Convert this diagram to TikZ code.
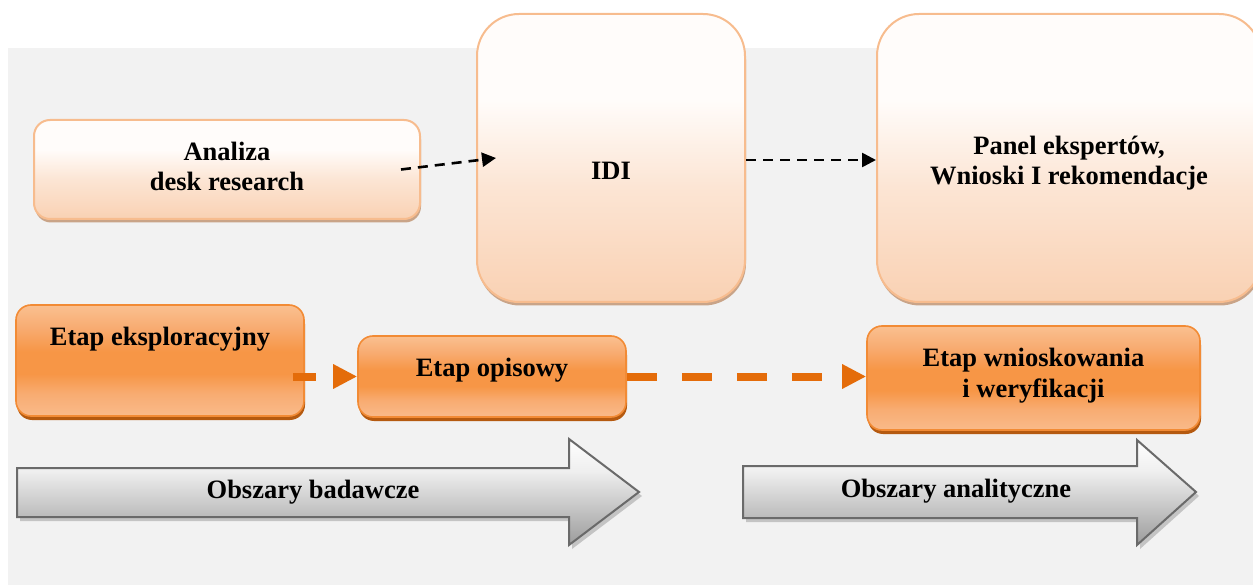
\documentclass[tikz,border=0pt]{standalone}
\usepackage{fontspec}
\setmainfont{Liberation Serif}
\usetikzlibrary{arrows.meta,shadows,calc}
\definecolor{bg}{HTML}{F2F2F2}
\definecolor{peachB}{HTML}{F9D1B3}
\definecolor{peachM}{HTML}{FCE5D4}
\definecolor{peachW}{HTML}{FFFCFA}
\definecolor{peachline}{HTML}{F7BC8E}
\definecolor{lightshadow}{HTML}{C9A488}
\definecolor{orL}{HTML}{FAC090}
\definecolor{orLB}{HTML}{F9BA8A}
\definecolor{orM}{HTML}{F8AC72}
\definecolor{orD}{HTML}{F79646}
\definecolor{orline}{HTML}{F28B35}
\definecolor{orshadow}{HTML}{B55A10}
\definecolor{orarr}{HTML}{E46C0A}
\definecolor{grA}{HTML}{9C9C9C}
\definecolor{grB}{HTML}{B8B8B8}
\definecolor{grC}{HTML}{EFEFEF}
\definecolor{grline}{HTML}{6A6A6A}
\definecolor{grshadow}{HTML}{C4C4C4}
\pgfdeclareverticalshading{lightsh}{100bp}{color(0bp)=(peachB); color(25bp)=(peachB); color(45bp)=(peachM); color(60bp)=(peachW); color(75bp)=(peachW); color(100bp)=(peachW)}
\pgfdeclareverticalshading{orsh}{100bp}{color(0bp)=(orLB); color(25bp)=(orLB); color(35bp)=(orM); color(44bp)=(orD); color(54bp)=(orD); color(65bp)=(orM); color(75bp)=(orL); color(100bp)=(orL)}
\pgfdeclareverticalshading{graysh}{100bp}{color(0bp)=(grA); color(25bp)=(grA); color(37bp)=(grB); color(60bp)=(grC); color(75bp)=(white); color(100bp)=(white)}
\begin{document}
\begin{tikzpicture}[x=1pt,y=-1pt,
  every node/.style={font=\fontsize{26.5}{30.5}\selectfont\bfseries, align=center, inner sep=0pt},
  lightbox/.style={draw=peachline, line width=2pt, shade, shading=lightsh, rounded corners=#1,
    drop shadow={shadow xshift=1pt, shadow yshift=-3.5pt, fill=lightshadow, opacity=1}},
  lightbox/.default=16pt,
  orbox/.style={draw=orline, line width=1.6pt, shade, shading=orsh, rounded corners=15pt,
    drop shadow={shadow xshift=1pt, shadow yshift=-4pt, fill=orshadow, opacity=1}},
  grayarrow/.style={draw=grline, line width=2pt, shade, shading=graysh,
    drop shadow={shadow xshift=3pt, shadow yshift=-4pt, fill=grshadow, opacity=1}},
  blackarr/.style={line width=2.6pt, dash pattern=on 10pt off 7pt, -{Triangle[length=14pt,width=14pt]}},
  orarrow/.style={orarr, line width=8pt, -{Triangle[length=24pt,width=23pt]}}
]
\useasboundingbox (0,0) rectangle (1253,585);
\fill[bg] (8,48) rectangle (1253,585);

% gray arrows
\path[grayarrow] (17,468) -- (569,468) -- (569,439) -- (639,492) -- (569,545) -- (569,517) -- (17,517) -- cycle;
\path[grayarrow] (743,466) -- (1137,466) -- (1137,440) -- (1196,492) -- (1137,545) -- (1137,518) -- (743,518) -- cycle;
\node[anchor=base] (obad) at (313,498) {Obszary badawcze};
\node[anchor=base] (oana) at (956,497) {Obszary analityczne};

% light boxes
\node[lightbox, minimum width=386pt, minimum height=99pt, text height=49pt, text depth=6pt] (ana) at (227,169.5) {Analiza\\desk research};
\node[lightbox=42pt, minimum width=268pt, minimum height=288pt, text height=44pt, text depth=0pt] (idi) at (611,158) {IDI};
\node[lightbox=42pt, minimum width=384pt, minimum height=288pt, text height=60pt, text depth=6pt] (panel) at (1069,158) {Panel ekspertów,\\Wnioski I rekomendacje};

% orange boxes
\node[orbox, minimum width=288pt, minimum height=111pt, text height=19pt, text depth=50pt] (eksp) at (160,360.5) {Etap eksploracyjny};
\node[orbox, minimum width=268pt, minimum height=81pt, text height=18pt, text depth=19pt] (opis) at (492,376.5) {Etap opisowy};
\node[orbox, minimum width=333pt, minimum height=104pt, text height=44pt, text depth=6pt] (wnios) at (1033.5,378) {Etap wnioskowania\\i weryfikacji};

% connectors
\draw[blackarr] ([xshift=-20pt]ana.east) -- ([xshift=20pt]idi.west);
\draw[blackarr] ([yshift=-2pt]idi.east) -- ([yshift=-2pt]panel.west);
\draw[orarrow, dash pattern=on 23pt off 20pt] ($(opis.west -| eksp.east)+(-12,0)$) -- (opis.west);
\draw[orarrow, dash pattern=on 30pt off 25pt] (opis.east) -- (opis.east -| wnios.west);
\end{tikzpicture}
\end{document}
